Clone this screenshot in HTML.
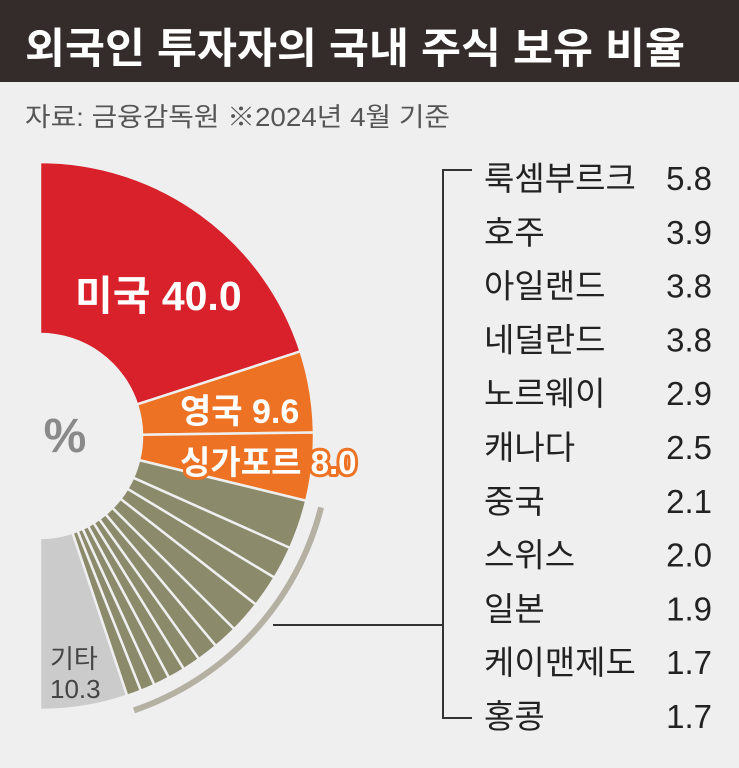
<!DOCTYPE html>
<html><head><meta charset="utf-8"><style>
html,body{margin:0;padding:0;background:#efefef}
svg{display:block}
text{font-family:"Liberation Sans","Noto Sans CJK KR",sans-serif}
</style></head><body>
<svg id="c" width="739" height="768" viewBox="0 0 739 768">
<rect x="0" y="0" width="739" height="768" fill="#efefef"/>
<rect x="0" y="0" width="739" height="82" fill="#332c2a"/>
<text x="25" y="63" font-size="42" font-weight="bold" fill="#fff" textLength="660" lengthAdjust="spacingAndGlyphs">외국인 투자자의 국내 주식 보유 비율</text>
<text x="25" y="126" font-size="26" fill="#555" textLength="425" lengthAdjust="spacingAndGlyphs">자료: 금융감독원  ※2024년 4월 기준</text>
<g id="slices"></g>
<text x="65" y="452" font-size="48" font-weight="bold" fill="#8a8a8a" text-anchor="middle">%</text>
<path id="bracketArc" fill="none" stroke="#b4b1a2" stroke-width="6"/>
<g id="legend"></g>
<g id="labels"></g>
</svg>
<script>
const mainNames=['미국','영국','싱가포르'];
const mainValues=[40.0,9.6,8.0];
const subNames=['룩셈부르크','호주','아일랜드','네덜란드','노르웨이','캐나다','중국','스위스','일본','케이맨제도','홍콩'];
const subValues=[5.8,3.9,3.8,3.8,2.9,2.5,2.1,2.0,1.9,1.7,1.7];
const otherName='기타';
const otherValue=[10.3];

const NS='http://www.w3.org/2000/svg';
const cx=40,cy=436,R=274,r=102;
const total=mainValues.reduce((a,b)=>a+b,0)+subValues.reduce((a,b)=>a+b,0)+otherValue[0];
const ang=v=>v/total*Math.PI;
const pt=(a,rad)=>[cx+rad*Math.sin(a),cy-rad*Math.cos(a)];
function mk(tag,attrs,parent){const e=document.createElementNS(NS,tag);for(const k in attrs)e.setAttribute(k,attrs[k]);parent.appendChild(e);return e;}
const sl=document.getElementById('slices');
function slice(a0,a1,fill,name){
  const [x0,y0]=pt(a0,R),[x1,y1]=pt(a1,R),[x2,y2]=pt(a1,r),[x3,y3]=pt(a0,r);
  const d=`M${x0},${y0}A${R},${R} 0 0 1 ${x1},${y1}L${x2},${y2}A${r},${r} 0 0 0 ${x3},${y3}Z`;
  const p=mk('path',{d:d,fill:fill,stroke:'#efefef','stroke-width':2.5},sl);
  
  
}
let cum=0;
const mainColors=['#d8212a','#ee7223','#ee7223'];
mainValues.forEach((v,i)=>{slice(ang(cum),ang(cum+v),mainColors[i],'slice-'+i);cum+=v;});
const subStart=cum;
subValues.forEach((v,i)=>{slice(ang(cum),ang(cum+v),'#8b8a6b','slice-sub-'+i);cum+=v;});
slice(ang(cum),Math.PI,'#cbcbcb','slice-other');

const BR=290;
const [bx0,by0]=pt(ang(subStart)+0.01,BR),[bx1,by1]=pt(Math.PI-0.33,BR);
document.getElementById('bracketArc').setAttribute('d',`M${bx0},${by0}A${BR},${BR} 0 0 1 ${bx1},${by1}`);

const lb=document.getElementById('labels');
function label(x,y,txt,size,fill,name,stroke){
  const t=mk('text',{x:x,y:y,'font-size':size,'font-weight':'bold',fill:fill},lb);
  if(stroke){t.setAttribute('stroke',stroke);t.setAttribute('stroke-width',6);t.setAttribute('paint-order','stroke');t.setAttribute('stroke-linejoin','round');}
  t.textContent=txt;
  
  
}
label(75,310,mainNames[0]+' '+mainValues[0].toFixed(1),41,'#fff','label-usa');
label(180,423,mainNames[1]+' '+mainValues[1].toFixed(1),34,'#fff','label-uk');
label(180,474,mainNames[2]+' '+mainValues[2].toFixed(1),33,'#fff','label-singapore','#ee7223');
const o1=mk('text',{x:50,y:668,'font-size':26,fill:'#444'},lb);o1.textContent=otherName;


const o2=mk('text',{x:50,y:698,'font-size':26,fill:'#444'},lb);o2.textContent=otherValue[0].toFixed(1);



const lg=document.getElementById('legend');
const top0=178,step=53.8;
const lastY=top0+step*(subNames.length-1);
mk('path',{d:`M472,170H443V${lastY+2}H472`,fill:'none',stroke:'#333','stroke-width':2},lg);
mk('line',{x1:273,y1:625,x2:443,y2:625,stroke:'#333','stroke-width':2},lg);
subNames.forEach((n,i)=>{
  const y=top0+step*i+12;
  const t=mk('text',{x:484,y:y,'font-size':33,fill:'#222'},lg);t.textContent=n;
  
  
  const v=mk('text',{x:712,y:y,'font-size':33,fill:'#222','text-anchor':'end'},lg);v.textContent=subValues[i].toFixed(1);
  
  
});
</script>
</body></html>
